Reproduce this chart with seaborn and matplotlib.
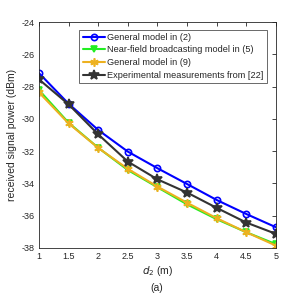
import numpy as np
import pandas as pd
import matplotlib
matplotlib.use("Agg")
import matplotlib.pyplot as plt
import seaborn as sns

d2 = [1, 1.5, 2, 2.5, 3, 3.5, 4, 4.5, 5]
general_2 = [-27.16, -29.06, -30.69, -32.03, -33.06, -34.04, -35.03, -35.90, -36.72]
nearfield_5 = [-28.21, -30.24, -31.79, -33.17, -34.24, -35.30, -36.22, -37.03, -37.77]
general_9 = [-28.36, -30.28, -31.80, -33.10, -34.20, -35.20, -36.16, -37.03, -37.86]
experimental_22 = [-27.55, -29.10, -30.96, -32.65, -33.75, -34.57, -35.52, -36.43, -37.13]

labels = ["General model in (2)", "Near-field broadcasting model in (5)",
          "General model in (9)", "Experimental measurements from [22]"]
series = [general_2, nearfield_5, general_9, experimental_22]
colors = ["#0000FF", "#22EE22", "#EDB120", "#333333"]
markers = ["o", "v", (6, 2, 0), "*"]
mfc = ["none", "#22EE22", "#EDB120", "#333333"]
msize = [4.5, 5, 6, 7]

sns.set_style("white")
plt.rcParams['font.family'] = ['Liberation Sans', 'DejaVu Sans']
plt.rcParams['axes.unicode_minus'] = False

fig = plt.figure(figsize=(3.04, 2.98), dpi=100)
ax = fig.add_axes([0.128, 0.168, 0.78, 0.758])

for lab, vals, c, m, fc, ms in zip(labels, series, colors, markers, mfc, msize):
    df = pd.DataFrame({"d2": d2, "p": vals})
    sns.lineplot(data=df, x="d2", y="p", ax=ax, color=c, marker=m, label=lab,
                 markerfacecolor=fc, markeredgecolor=c, markersize=ms,
                 markeredgewidth=1.2, linewidth=1.5)

ax.set_xlim(1, 5)
ax.set_ylim(-38, -24)
ax.set_xticks([1, 1.5, 2, 2.5, 3, 3.5, 4, 4.5, 5])
ax.set_xticklabels(["1", "1.5", "2", "2.5", "3", "3.5", "4", "4.5", "5"])
ax.set_yticks([-38, -36, -34, -32, -30, -28, -26, -24])
ax.tick_params(direction="in", length=3, width=0.6, labelsize=6.5, colors="#262626",
               top=True, right=True, pad=3)
for s in ax.spines.values():
    s.set_linewidth(0.6)
    s.set_color("#262626")
ax.set_xlabel(r"$d_2$ (m)", fontsize=7.5, labelpad=2)
ax.set_ylabel("received signal power (dBm)", fontsize=7.5, labelpad=3)

leg = ax.legend(loc="upper right", bbox_to_anchor=(0.962, 0.967), fontsize=6.6,
                frameon=True, fancybox=False, handlelength=2.4, handletextpad=0.3,
                borderpad=0.35, labelspacing=0.4, borderaxespad=0)
leg.get_frame().set_edgecolor("#262626")
leg.get_frame().set_linewidth(0.6)

fig.text(0.516, 0.035, "(a)", ha="center", va="center", fontsize=7.5)

fig.savefig("out.png", dpi=100)
